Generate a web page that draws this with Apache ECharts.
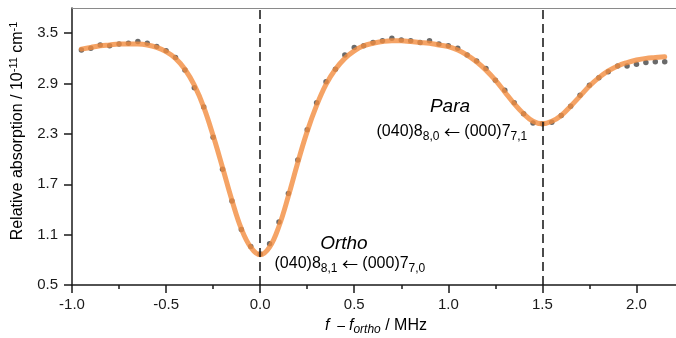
<!DOCTYPE html>
<html>
<head>
<meta charset="utf-8">
<script src="https://cdn.jsdelivr.net/npm/echarts@6/dist/echarts.min.js"></script>
<style>
  html, body { margin: 0; padding: 0; background: #fff; }
  #chart { width: 676px; height: 338px; }
</style>
</head>
<body>
<div id="chart"></div>
<script>
// Frequency offset from the ortho line centre (MHz)
const frequency = [
  -0.95, -0.90, -0.85, -0.80, -0.75, -0.70, -0.65, -0.60, -0.55, -0.50,
  -0.45, -0.40, -0.35, -0.30, -0.25, -0.20, -0.15, -0.10, -0.05, 0.00,
   0.05,  0.10,  0.15,  0.20,  0.25,  0.30,  0.35,  0.40,  0.45, 0.50,
   0.55,  0.60,  0.65,  0.70,  0.75,  0.80,  0.85,  0.90,  0.95, 1.00,
   1.05,  1.10,  1.15,  1.20,  1.25,  1.30,  1.35,  1.40,  1.45, 1.50,
   1.55,  1.60,  1.65,  1.70,  1.75,  1.80,  1.85,  1.90,  1.95, 2.00,
   2.05,  2.10,  2.15
];

// Measured relative absorption (10^-11 cm^-1)
const measured = [
  3.30, 3.32, 3.36, 3.35, 3.37, 3.38, 3.40, 3.38, 3.34, 3.29,
  3.21, 3.06, 2.85, 2.62, 2.26, 1.88, 1.50, 1.16, 0.96, 0.87,
  0.99, 1.25, 1.59, 1.99, 2.35, 2.67, 2.92, 3.07, 3.24, 3.33,
  3.35, 3.39, 3.41, 3.44, 3.42, 3.41, 3.39, 3.41, 3.37, 3.35,
  3.32, 3.24, 3.17, 3.08, 2.94, 2.82, 2.67, 2.54, 2.43, 2.42,
  2.44, 2.52, 2.63, 2.76, 2.88, 2.97, 3.04, 3.11, 3.11, 3.13,
  3.15, 3.16, 3.16
];

// Line-shape fit evaluated on the same frequency grid
const fitted = [
  3.31, 3.33, 3.35, 3.36, 3.37, 3.37, 3.37, 3.36, 3.33, 3.28,
  3.20, 3.07, 2.88, 2.62, 2.28, 1.90, 1.51, 1.17, 0.95, 0.86,
  0.95, 1.20, 1.56, 1.96, 2.33, 2.64, 2.89, 3.07, 3.20, 3.29,
  3.35, 3.38, 3.40, 3.41, 3.41, 3.40, 3.39, 3.38, 3.36, 3.34,
  3.30, 3.24, 3.16, 3.06, 2.94, 2.80, 2.66, 2.54, 2.45, 2.42,
  2.45, 2.52, 2.63, 2.75, 2.87, 2.97, 3.05, 3.11, 3.15, 3.18,
  3.20, 3.21, 3.22
];

const xTicks = [-1.0, -0.5, 0.0, 0.5, 1.0, 1.5, 2.0];
const xMinorTicks = [-0.75, -0.25, 0.25, 0.75, 1.25, 1.75];
const yTicks = [0.5, 1.1, 1.7, 2.3, 2.9, 3.5];
const lineCentres = [0.0, 1.5];

const FONT = '"Liberation Sans", Arial, sans-serif';
const INK = '#1a1a1a';

const chart = echarts.init(document.getElementById('chart'), null, { renderer: 'canvas' });

const grid = { left: 72, right: 0, top: 8, bottom: 53 };
const xMin = -1.0, xMax = 2.21;

chart.setOption({
  animation: false,
  backgroundColor: '#fff',
  grid: grid,
  xAxis: [
    {
      type: 'value', min: xMin, max: xMax, interval: 0.5, position: 'bottom',
      axisLine: { show: true, onZero: false, lineStyle: { color: INK, width: 1.5 } },
      axisTick: { show: true, length: 8, lineStyle: { color: INK, width: 1.5 }, customValues: xTicks },
      axisLabel: {
        color: INK, fontSize: 15, fontFamily: FONT, margin: 12,
        customValues: xTicks, formatter: v => v.toFixed(1)
      },
      splitLine: { show: false }
    },
    {
      // shorter ticks half-way between the labelled ones
      type: 'value', min: xMin, max: xMax, position: 'bottom',
      axisLine: { show: false },
      axisTick: { show: true, length: 4, lineStyle: { color: INK, width: 1.5 }, customValues: xMinorTicks },
      axisLabel: { show: false },
      splitLine: { show: false }
    },
    {
      // thin frame line along the top
      type: 'value', min: xMin, max: xMax, position: 'top',
      axisLine: { show: true, onZero: false, lineStyle: { color: '#8a8a8a', width: 1 } },
      axisTick: { show: false }, axisLabel: { show: false }, splitLine: { show: false }
    }
  ],
  yAxis: {
    type: 'value', min: 0.5, max: 3.8, interval: 0.6,
    axisLine: { show: true, onZero: false, lineStyle: { color: INK, width: 1.5 } },
    axisTick: { show: true, length: 8, lineStyle: { color: INK, width: 1.5 }, customValues: yTicks },
    axisLabel: {
      color: INK, fontSize: 15, fontFamily: FONT, margin: 14,
      customValues: yTicks, formatter: v => v.toFixed(1)
    },
    splitLine: { show: false }
  },
  series: [
    {
      name: 'measured',
      type: 'scatter',
      xAxisIndex: 0,
      data: frequency.map((f, i) => [f, measured[i]]),
      symbol: 'circle',
      symbolSize: 5.5,
      itemStyle: { color: '#454545' },
      z: 2,
      markLine: {
        silent: true,
        symbol: ['none', 'none'],
        label: { show: false },
        lineStyle: { color: '#111', width: 1.5, type: [9, 5] },
        data: lineCentres.map(c => ({ xAxis: c }))
      }
    },
    {
      name: 'fit',
      type: 'line',
      xAxisIndex: 0,
      data: frequency.map((f, i) => [f, fitted[i]]),
      smooth: 0.4,
      showSymbol: false,
      lineStyle: { color: '#f28c3f', width: 5, opacity: 0.8, cap: 'round' },
      z: 3
    }
  ]
});

// Text annotations anchored in data coordinates
const px = (x, y) => chart.convertToPixel({ gridIndex: 0 }, [x, y]);

const transRich = {
  n: { fontSize: 16, fontFamily: FONT, color: INK, lineHeight: 22 },
  a: { fontSize: 16, fontFamily: '"Noto Sans CJK SC", "DejaVu Sans", sans-serif', color: INK, lineHeight: 22 },
  s: { fontSize: 12, fontFamily: FONT, color: INK, lineHeight: 11, verticalAlign: 'bottom' }
};

function label(pos, text, rich) {
  return {
    type: 'text', x: pos[0], y: pos[1], silent: true, z: 10,
    style: { text: text, rich: rich, align: 'center', verticalAlign: 'middle' }
  };
}

const titleRich = {
  it: { fontSize: 19, fontStyle: 'italic', fontFamily: FONT, color: INK, lineHeight: 24 }
};

const orthoTitle = px(0.445, 0.994);
const orthoLine = px(0.477, 0.75);
const paraTitle = px(1.009, 2.627);
const paraLine = px(1.019, 2.323);

chart.setOption({
  graphic: [
    label(orthoTitle, '{it|Ortho}', titleRich),
    label(orthoLine, '{n|(040)8}{s|8,1}{n| }{a|\u2190}{n| (000)7}{s|7,0}', transRich),
    label(paraTitle, '{it|Para}', titleRich),
    label(paraLine, '{n|(040)8}{s|8,0}{n| }{a|\u2190}{n| (000)7}{s|7,1}', transRich),
    {
      type: 'text', x: 18, y: 131, rotation: Math.PI / 2, silent: true,
      style: {
        text: '{n|Relative absorption / 10}{p|-11}{n| cm}{p|-1}',
        align: 'center', verticalAlign: 'middle',
        rich: {
          n: { fontSize: 16, fontFamily: FONT, color: INK, lineHeight: 20 },
          p: { fontSize: 11, fontFamily: FONT, color: INK, lineHeight: 11, verticalAlign: 'top' }
        }
      }
    },
    {
      type: 'text', x: 376, y: 326, silent: true,
      style: {
        text: '{i|f}{d|  \u2013 }{i|f}{s|ortho}{n| / MHz}',
        align: 'center', verticalAlign: 'middle',
        rich: {
          i: { fontSize: 16, fontStyle: 'italic', fontFamily: FONT, color: INK, lineHeight: 20 },
          d: { fontSize: 14, fontFamily: FONT, color: '#8a8a8a', lineHeight: 20 },
          s: { fontSize: 12, fontStyle: 'italic', fontFamily: FONT, color: INK, lineHeight: 11, verticalAlign: 'bottom' },
          n: { fontSize: 16, fontFamily: FONT, color: INK, lineHeight: 20 }
        }
      }
    }
  ]
});
</script>
</body>
</html>
